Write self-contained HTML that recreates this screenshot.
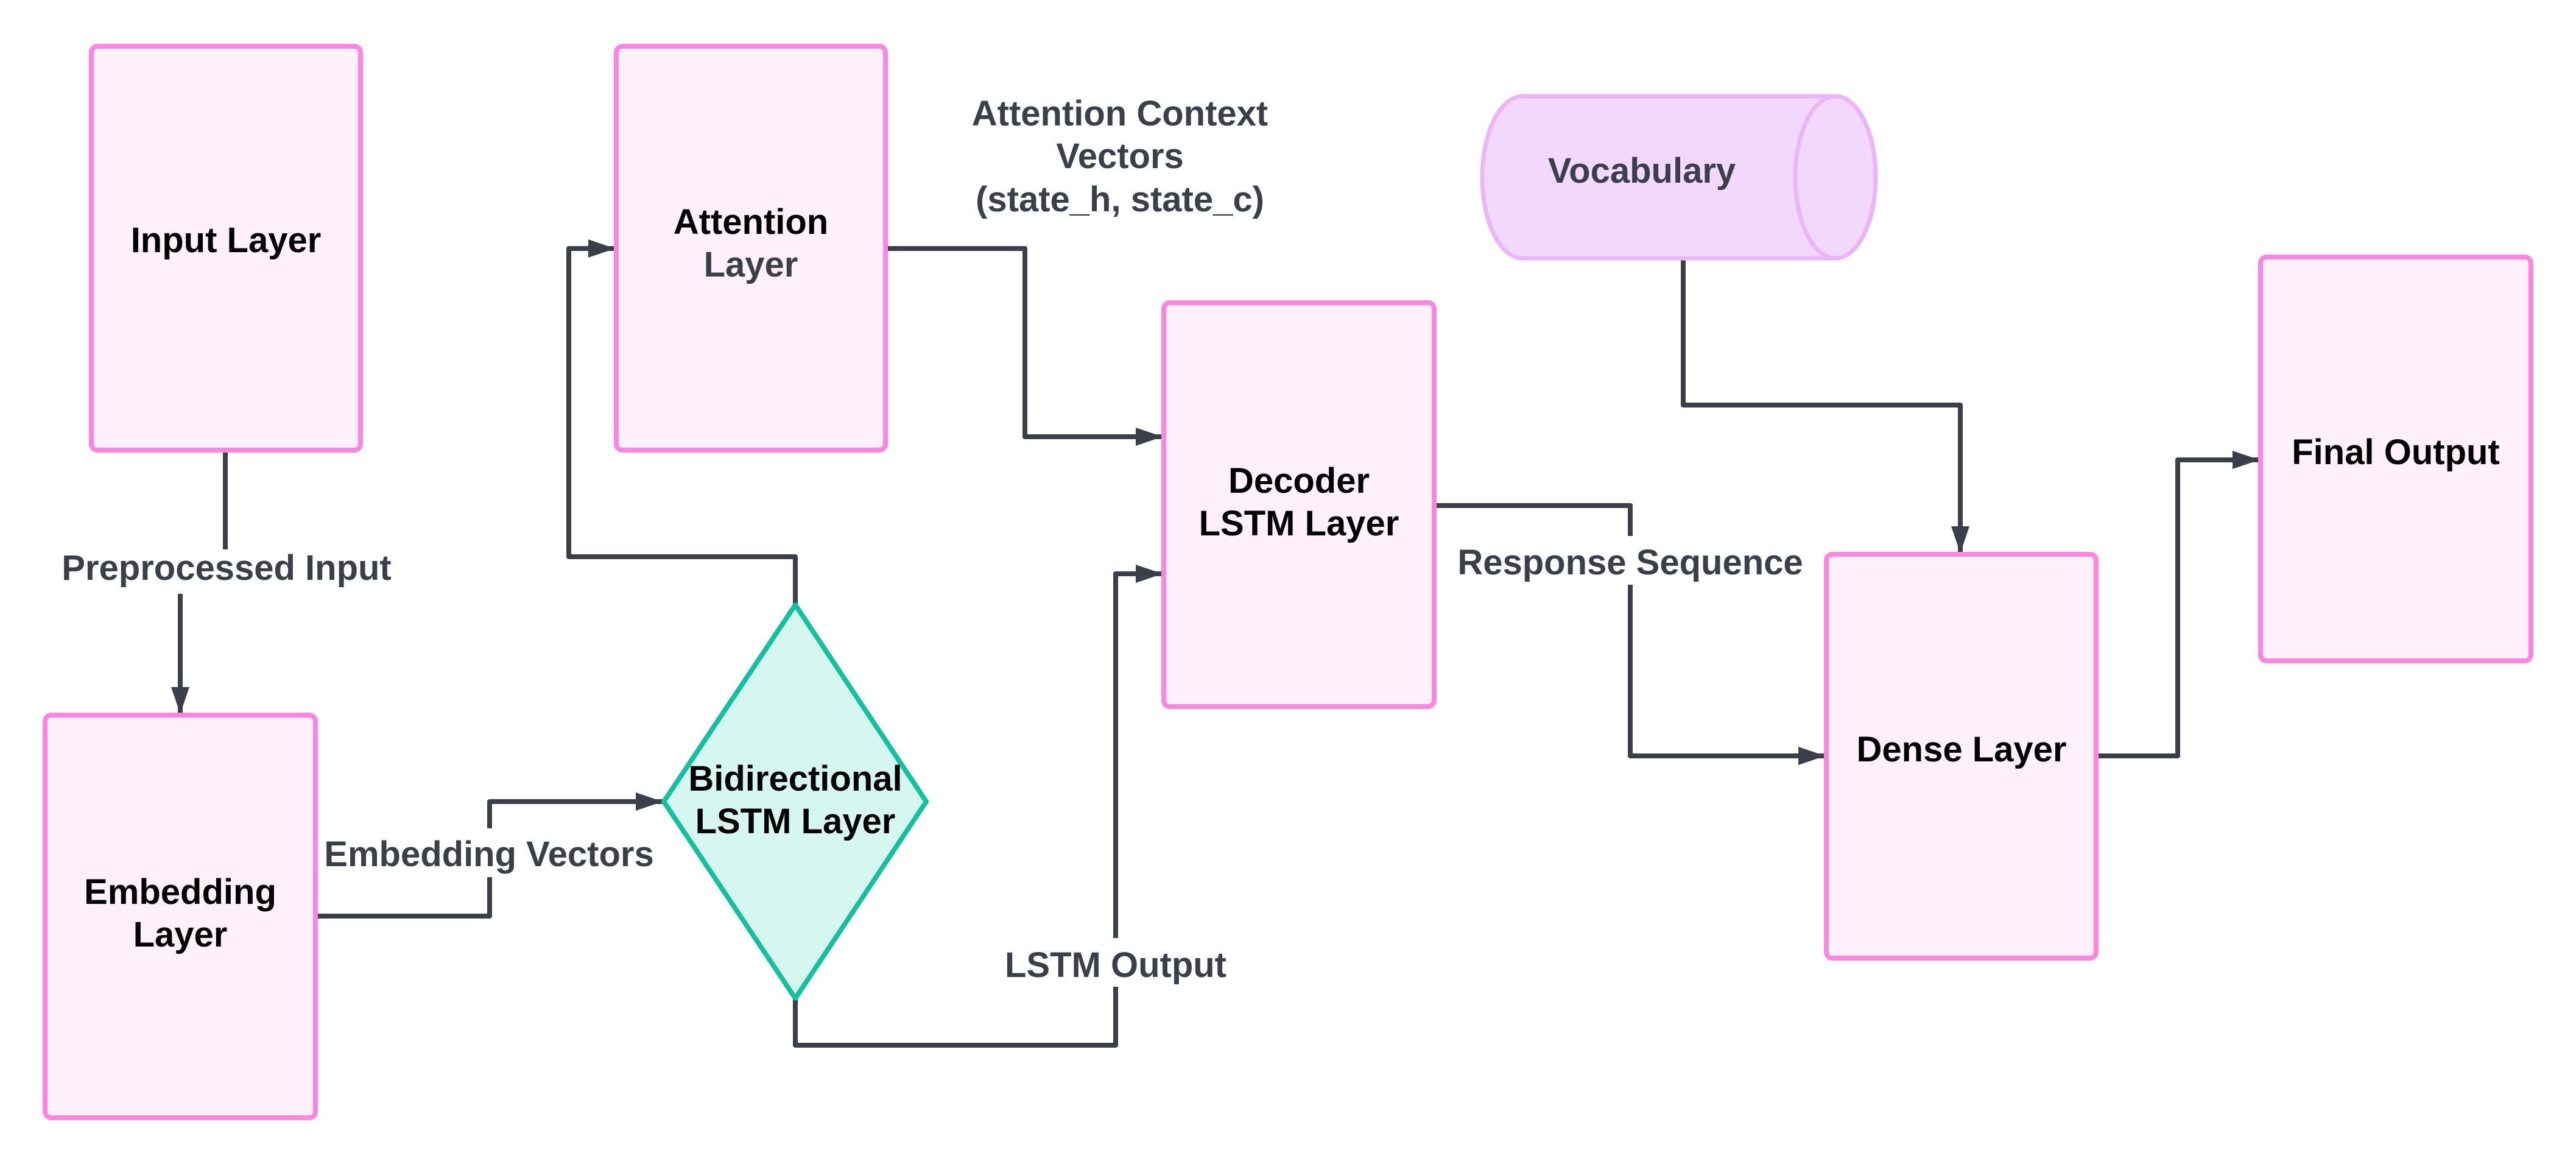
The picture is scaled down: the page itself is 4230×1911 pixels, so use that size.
<!DOCTYPE html>
<html><head><meta charset="utf-8"><style>
html,body{margin:0;padding:0;background:#fff;}
svg{display:block;}
text{font-family:"Liberation Sans",Arial,sans-serif;font-weight:bold;}
</style></head><body>
<svg width="4230" height="1911" viewBox="0 0 4230 1911" xmlns="http://www.w3.org/2000/svg">
<defs>
<marker id="ah" markerUnits="userSpaceOnUse" markerWidth="50" markerHeight="40" refX="44" refY="15" orient="auto">
<path d="M0,0 L44,15 L0,30 z" fill="#3a3f4a"/>
</marker>
</defs>
<g fill="none" stroke="#3a3f4a" stroke-width="8" stroke-linejoin="round">
<!-- Input -> Embedding -->
<path d="M370,739 V902"/>
<path d="M296,975 V1172" marker-end="url(#ah)"/>
<!-- Embedding -> Diamond -->
<path d="M518,1504 H804 V1316 H1088" marker-end="url(#ah)"/>
<!-- Diamond -> Attention -->
<path d="M1306,993 V914 H934 V408 H1010" marker-end="url(#ah)"/>
<!-- Attention -> Decoder -->
<path d="M1454,408 H1683 V717 H1909" marker-end="url(#ah)"/>
<!-- Diamond -> Decoder -->
<path d="M1306,1639 V1716 H1832 V942 H1909" marker-end="url(#ah)"/>
<!-- Decoder -> Dense -->
<path d="M2355,830 H2677 V1241 H2997" marker-end="url(#ah)"/>
<!-- Vocab -> Dense -->
<path d="M2764,424 V665 H3219 V908" marker-end="url(#ah)"/>
<!-- Dense -> Final -->
<path d="M3442,1241 H3576 V755 H3710" marker-end="url(#ah)"/>
</g>
<!-- label backgrounds -->
<g fill="#fff">
<rect x="2390" y="880" width="580" height="80"/>
<rect x="1640" y="1540" width="390" height="80"/>
<rect x="530" y="1360" width="550" height="80"/>
</g>
<g fill="#fff0f9" stroke="#ff85e0" stroke-width="8">
<rect x="150" y="76" width="442" height="663" rx="10"/>
<rect x="1012" y="76" width="442" height="663" rx="10"/>
<rect x="74" y="1174" width="444" height="661" rx="10"/>
<rect x="1911" y="497" width="444" height="663" rx="10"/>
<rect x="2999" y="910" width="443" height="663" rx="10"/>
<rect x="3712" y="422" width="444" height="663" rx="10"/>
</g>
<polygon points="1306,993 1521,1316 1306,1639 1090,1316" fill="#d5f7f0" stroke="#14c0a0" stroke-width="8" stroke-linejoin="round"/>
<g fill="#f1d8fc" stroke="#eab6f9" stroke-width="7">
<path d="M2500,158 H3014 A66,133 0 0 1 3014,424 H2500 A66,133 0 0 1 2500,158 z"/>
<ellipse cx="3014" cy="291" rx="66" ry="133"/>
</g>
<g font-size="58" text-anchor="middle" fill="#000">
<text x="371" y="414">Input Layer</text>
<text x="1233" y="384">Attention</text>
<text x="1233" y="454" fill="#3a3f4a">Layer</text>
<text x="296" y="1484">Embedding</text>
<text x="296" y="1554">Layer</text>
<text x="1306" y="1298">Bidirectional</text>
<text x="1306" y="1368">LSTM Layer</text>
<text x="2133" y="809">Decoder</text>
<text x="2133" y="879">LSTM Layer</text>
<text x="3221" y="1250">Dense Layer</text>
<text x="3934" y="762">Final Output</text>
</g>
<g font-size="58" text-anchor="middle" fill="#3a3f4a">
<text x="372" y="952">Preprocessed Input</text>
<text x="803" y="1422">Embedding Vectors</text>
<text x="1839" y="206">Attention Context</text>
<text x="1839" y="276">Vectors</text>
<text x="1839" y="347">(state_h, state_c)</text>
<text x="1832" y="1604">LSTM Output</text>
<text x="2677" y="943">Response Sequence</text>
<text x="2696" y="300">Vocabulary</text>
</g>
</svg>
</body></html>
